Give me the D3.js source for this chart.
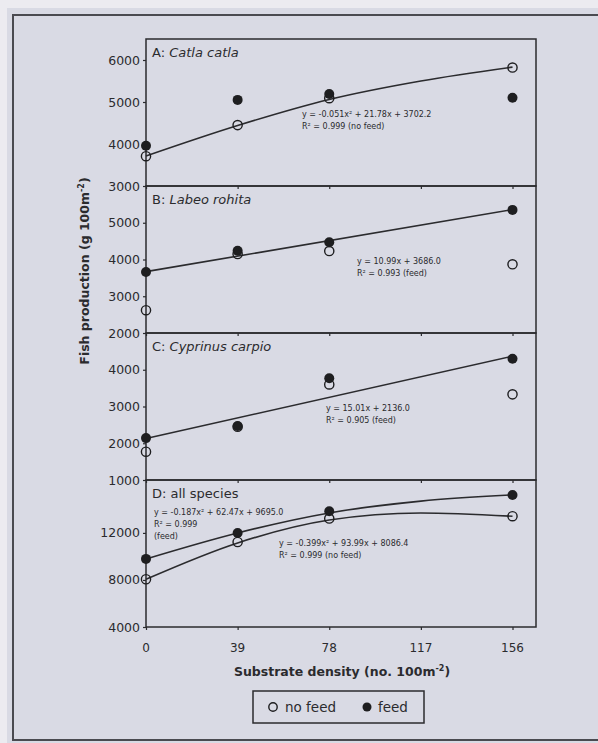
<!DOCTYPE html>
<html>
<head>
<meta charset="utf-8">
<script src="https://d3js.org/d3.v7.min.js"></script>
<style>
  body { margin: 0; background: #ecebf0; }
  svg { display: block; }
  text { font-family: "DejaVu Sans", Verdana, sans-serif; fill: #2b2b2e; }
</style>
</head>
<body>
<div id="chart"></div>
<script>
// substrate densities where fish were sampled
var densities = [0, 39, 78, 156];
var xTickValues = [0, 39, 78, 117, 156];
var fitX = [0, 39, 78, 117, 156];
var lineX = [0, 156];

// A: Catla catla
var catlaNoFeed = [3710, 4450, 5090, 5820];
var catlaFeed = [3960, 5050, 5190, 5100];
var catlaFit = [3714, 4440, 5060, 5500, 5830];
// B: Labeo rohita
var rohitaNoFeed = [2620, 4150, 4230, 3870];
var rohitaFeed = [3660, 4240, 4470, 5350];
var rohitaFit = [3670, 5360];
// C: Cyprinus carpio
var carpioNoFeed = [1770, 2450, 3600, 3330];
var carpioFeed = [2140, 2470, 3770, 4300];
var carpioFit = [2130, 4370];
// D: all species
var allNoFeed = [8060, 11230, 13220, 13420];
var allFeed = [9790, 12000, 13840, 15230];
var allFeedFit = [9790, 12000, 13700, 14700, 15230];
var allNoFeedFit = [8060, 11150, 13100, 13700, 13420];

var panels = [
    {label: 'A: ', species: 'Catla catla', domain: [3000, 6500], ticks: [3000, 4000, 5000, 6000],
     top: 39, bottom: 186, noFeed: catlaNoFeed, feed: catlaFeed,
     fits: [{x: fitX, y: catlaFit}],
     eq: [{x: 302, y: 117, lines: ['y = -0.051x² + 21.78x + 3702.2', 'R² = 0.999 (no feed)']}]},
    {label: 'B: ', species: 'Labeo rohita', domain: [2000, 6000], ticks: [2000, 3000, 4000, 5000],
     top: 186, bottom: 333, noFeed: rohitaNoFeed, feed: rohitaFeed,
     fits: [{x: lineX, y: rohitaFit}],
     eq: [{x: 357, y: 264, lines: ['y = 10.99x + 3686.0', 'R² = 0.993 (feed)']}]},
    {label: 'C: ', species: 'Cyprinus carpio', domain: [1000, 5000], ticks: [1000, 2000, 3000, 4000],
     top: 333, bottom: 480, noFeed: carpioNoFeed, feed: carpioFeed,
     fits: [{x: lineX, y: carpioFit}],
     eq: [{x: 326, y: 411, lines: ['y = 15.01x + 2136.0', 'R² = 0.905 (feed)']}]},
    {label: 'D: all species', species: '', domain: [4000, 16500], ticks: [4000, 8000, 12000],
     top: 480, bottom: 627, noFeed: allNoFeed, feed: allFeed,
     fits: [{x: fitX, y: allFeedFit}, {x: fitX, y: allNoFeedFit}],
     eq: [{x: 154, y: 515, lines: ['y = -0.187x² + 62.47x + 9695.0', 'R² = 0.999', '(feed)']},
          {x: 279, y: 546, lines: ['y = -0.399x² + 93.99x + 8086.4', 'R² = 0.999 (no feed)']}]}
];

var width = 598, height = 743;
var left = 146, right = 536;
var ink = '#2b2b2e';

var svg = d3.select('#chart').append('svg').attr('width', width).attr('height', height);

// scanned page background + outer frame
svg.append('rect').attr('x', 7).attr('y', 8).attr('width', width - 7).attr('height', height - 8).attr('fill', '#d9dae4');
svg.append('path')
    .attr('d', `M598,15 L13,15 L13,740 L598,740`)
    .attr('fill', 'none').attr('stroke', '#4a4a50').attr('stroke-width', 2);

var x = d3.scaleLinear().domain([0, 166]).range([left, right]);

panels.forEach(function(p) {
    var y = d3.scaleLinear().domain(p.domain).range([p.bottom, p.top]);
    var g = svg.append('g');

    // panel box
    g.append('rect').attr('x', left).attr('y', p.top).attr('width', right - left).attr('height', p.bottom - p.top)
        .attr('fill', 'none').attr('stroke', ink).attr('stroke-width', 1.5);

    var yAxis = g.append('g').attr('transform', `translate(${left},0)`)
        .call(d3.axisLeft(y).tickValues(p.ticks).tickSize(3).tickPadding(3).tickFormat(d3.format('d')));
    var xAxis = g.append('g').attr('transform', `translate(0,${p.bottom})`)
        .call(d3.axisBottom(x).tickValues(xTickValues).tickSize(3).tickFormat(''));
    [yAxis, xAxis].forEach(function(a) {
        a.select('.domain').remove();
        a.selectAll('line').attr('stroke', ink).attr('stroke-width', 1.2);
        a.selectAll('text').style('font-size', '12.5px').attr('fill', ink);
    });

    // panel label
    var lab = g.append('text').attr('x', left + 6).attr('y', p.top + 18).style('font-size', '13px');
    lab.append('tspan').text(p.label);
    if (p.species) lab.append('tspan').style('font-style', 'italic').text(p.species);

    // fit lines
    p.fits.forEach(function(f) {
        var pts = f.x.map(function(d, i) { return [x(d), y(f.y[i])]; });
        g.append('path').attr('d', d3.line().curve(d3.curveMonotoneX)(pts))
            .attr('fill', 'none').attr('stroke', ink).attr('stroke-width', 1.6);
    });

    // points: feed filled, no feed open
    g.selectAll('.feed').data(p.feed).enter().append('circle')
        .attr('cx', function(d, i) { return x(densities[i]); })
        .attr('cy', function(d) { return y(d); })
        .attr('r', 5).attr('fill', '#1e1e20');
    g.selectAll('.nofeed').data(p.noFeed).enter().append('circle')
        .attr('cx', function(d, i) { return x(densities[i]); })
        .attr('cy', function(d) { return y(d); })
        .attr('r', 4.6).attr('fill', 'none').attr('stroke', '#1e1e20').attr('stroke-width', 1.4);

    // regression equations
    p.eq.forEach(function(e) {
        e.lines.forEach(function(t, i) {
            g.append('text').attr('x', e.x).attr('y', e.y + i * 12).style('font-size', '8px').text(t);
        });
    });
});

// x tick labels under the last panel
svg.append('g').selectAll('text').data(xTickValues).enter().append('text')
    .attr('x', function(d) { return x(d); }).attr('y', 652)
    .attr('text-anchor', 'middle').style('font-size', '12px').text(function(d) { return d; });

// axis titles
var xt = svg.append('text').attr('x', 342).attr('y', 676).attr('text-anchor', 'middle')
    .style('font-size', '12.5px').style('font-weight', 'bold');
xt.append('tspan').text('Substrate density (no. 100m');
xt.append('tspan').attr('dy', -5).style('font-size', '8px').text('-2');
xt.append('tspan').attr('dy', 5).text(')');

var yt = svg.append('text').attr('transform', 'translate(89,271) rotate(-90)').attr('text-anchor', 'middle')
    .style('font-size', '12.5px').style('font-weight', 'bold');
yt.append('tspan').text('Fish production (g 100m');
yt.append('tspan').attr('dy', -5).style('font-size', '8px').text('-2');
yt.append('tspan').attr('dy', 5).text(')');

// legend
var legend = svg.append('g');
legend.append('rect').attr('x', 253).attr('y', 691).attr('width', 171).attr('height', 32)
    .attr('fill', 'none').attr('stroke', ink).attr('stroke-width', 1.5);
legend.append('circle').attr('cx', 273).attr('cy', 707).attr('r', 4.2)
    .attr('fill', 'none').attr('stroke', '#1e1e20').attr('stroke-width', 1.4);
legend.append('text').attr('x', 285).attr('y', 712).style('font-size', '13.5px').text('no feed');
legend.append('circle').attr('cx', 367).attr('cy', 707).attr('r', 4.5).attr('fill', '#1e1e20');
legend.append('text').attr('x', 378).attr('y', 712).style('font-size', '13.5px').text('feed');
</script>
</body>
</html>
